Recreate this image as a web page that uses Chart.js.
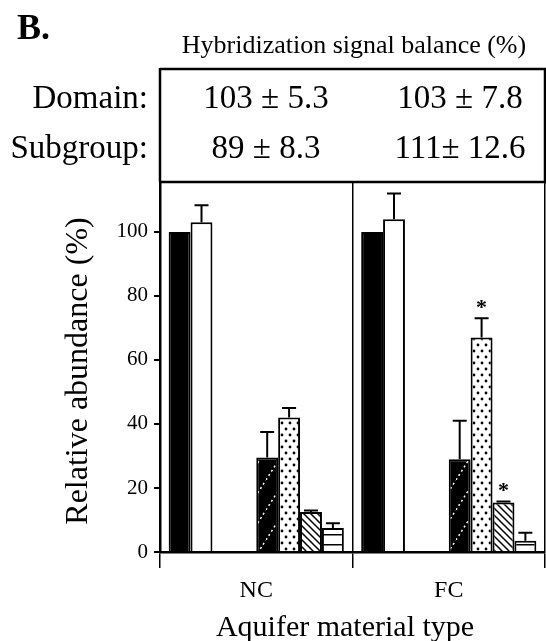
<!DOCTYPE html>
<html>
<head>
<meta charset="utf-8">
<script src="https://cdn.jsdelivr.net/npm/chart.js@4/dist/chart.umd.min.js"></script>
<style>
  body { margin: 0; background: #fff; }
</style>
</head>
<body>
<canvas id="js--chart" width="546" height="641"></canvas>
<script>
// categories and values
const categories = ["NC", "FC"];
const yTicks = [0, 20, 40, 60, 80, 100];

const domainProbe = [100, 100];
const domainSum = [103, 104];
const domainSumErr = [5.3, 8];
const subgroupA = [29.5, 29];
const subgroupAErr = [8, 12];
const subgroupB = [42, 67];
const subgroupBErr = [3, 6];
const subgroupC = [12.5, 15.5];
const subgroupCErr = [0.5, 0.3];
const subgroupD = [7.5, 3.5];
const subgroupDErr = [1.5, 2.5];
const starB = [false, true];
const starC = [false, true];

// table above the plot
const tableTitle = "Hybridization signal balance (%)";
const rowLabels = ["Domain:", "Subgroup:"];
const balanceNC = ["103 \u00b1 5.3", "89 \u00b1 8.3"];
const balanceFC = ["103 \u00b1 7.8", "111\u00b1 12.6"];

const serif = "'Liberation Serif', 'Times New Roman', serif";
Chart.defaults.font.family = serif;
Chart.defaults.color = "#000";

function makePattern(w, h, draw){
    const c = document.createElement("canvas");
    c.width = w;
    c.height = h;
    const g = c.getContext("2d");
    draw(g, w, h);
    return document.getElementById("js--chart").getContext("2d").createPattern(c, "repeat");
}

// black with white dotted "/" lines
const patternA = makePattern(19, 30, function(g, w, h){
    g.fillStyle = "#000";
    g.fillRect(0, 0, w, h);
    g.strokeStyle = "#fff";
    g.lineWidth = 1.5;
    g.setLineDash([2, 3]);
    g.beginPath();
    g.moveTo(0, h);
    g.lineTo(w, 0);
    g.stroke();
});

// white with black dots
const patternB = makePattern(8, 12, function(g, w, h){
    g.fillStyle = "#fff";
    g.fillRect(0, 0, w, h);
    g.fillStyle = "#000";
    g.beginPath();
    g.arc(2, 3, 1.4, 0, Math.PI * 2);
    g.arc(6, 9, 1.4, 0, Math.PI * 2);
    g.fill();
});

// white with black "\" lines
const patternC = makePattern(7, 7, function(g, w, h){
    g.fillStyle = "#fff";
    g.fillRect(0, 0, w, h);
    g.strokeStyle = "#000";
    g.lineWidth = 1.5;
    g.beginPath();
    g.moveTo(-1, -1);
    g.lineTo(w + 1, h + 1);
    g.moveTo(-1, h - 1);
    g.lineTo(1, h + 1);
    g.moveTo(w - 1, -1);
    g.lineTo(w + 1, 1);
    g.stroke();
});

// white with horizontal lines
const patternD = makePattern(4, 10, function(g, w, h){
    g.fillStyle = "#fff";
    g.fillRect(0, 0, w, h);
    g.fillStyle = "#000";
    g.fillRect(0, 4, w, 1.5);
});

const tablePlugin = {
    id: "table",
    afterDraw(chart){
        const c = chart.ctx;
        const area = chart.chartArea;
        c.save();
        c.fillStyle = "#000";
        c.font = "bold 36px " + serif;
        c.textAlign = "left";
        c.textBaseline = "alphabetic";
        c.fillText("B.", 17, 39);

        c.font = "26px " + serif;
        c.textAlign = "center";
        c.fillText(tableTitle, 354, 53);

        c.strokeStyle = "#000";
        c.lineWidth = 2.5;
        c.beginPath();
        c.moveTo(area.left, 69);
        c.lineTo(546, 69);
        c.moveTo(area.left, 68);
        c.lineTo(area.left, area.top);
        c.moveTo(area.left, area.top);
        c.lineTo(546, area.top);
        c.moveTo(area.right, 69);
        c.lineTo(area.right, area.top);
        c.stroke();

        c.font = "33px " + serif;
        const baselines = [108, 158];
        for(let i = 0; i < rowLabels.length; i++){
            c.textAlign = "right";
            c.fillText(rowLabels[i], 148, baselines[i]);
            c.textAlign = "center";
            c.fillText(balanceNC[i], 266, baselines[i]);
            c.fillText(balanceFC[i], 460, baselines[i]);
        }
        c.restore();
    }
};

const errorBarPlugin = {
    id: "errorBars",
    afterDatasetsDraw(chart){
        const c = chart.ctx;
        const yScale = chart.scales.y;
        c.save();
        c.strokeStyle = "#000";
        c.fillStyle = "#000";
        c.lineWidth = 2;
        chart.data.datasets.forEach(function(ds, i){
            if(!ds.errors) return;
            chart.getDatasetMeta(i).data.forEach(function(bar, j){
                const top = yScale.getPixelForValue(ds.data[j] + ds.errors[j]);
                c.beginPath();
                c.moveTo(bar.x, bar.y);
                c.lineTo(bar.x, top);
                c.moveTo(bar.x - 7, top);
                c.lineTo(bar.x + 7, top);
                c.stroke();
                if(ds.stars && ds.stars[j]){
                    c.font = "bold 22px " + serif;
                    c.textAlign = "center";
                    c.textBaseline = "alphabetic";
                    c.fillText("*", bar.x, top - 4);
                }
            });
        });
        c.restore();
    }
};

const dataSets = [
    { label: "Domain probe", data: domainProbe, backgroundColor: "#000" },
    { label: "Sum of domains", data: domainSum, errors: domainSumErr, backgroundColor: "#fff" },
    { label: "", data: [null, null] },
    { label: "", data: [null, null] },
    { label: "Subgroup A", data: subgroupA, errors: subgroupAErr, backgroundColor: patternA },
    { label: "Subgroup B", data: subgroupB, errors: subgroupBErr, stars: starB, backgroundColor: patternB },
    { label: "Subgroup C", data: subgroupC, errors: subgroupCErr, stars: starC, backgroundColor: patternC },
    { label: "Subgroup D", data: subgroupD, errors: subgroupDErr, backgroundColor: patternD }
];
dataSets.forEach(function(ds){
    ds.borderColor = "#000";
    ds.borderWidth = 2;
});

const chart = new Chart(document.getElementById("js--chart"), {
    type: "bar",
    data: { labels: categories, datasets: dataSets },
    options: {
        responsive: false,
        animation: false,
        layout: { padding: { top: 182, right: 1, left: 0, bottom: 0 } },
        datasets: { bar: { categoryPercentage: 0.91, barPercentage: 1 } },
        plugins: { legend: { display: false }, tooltip: { enabled: false } },
        scales: {
            x: {
                grid: { offset: true, color: "#000", lineWidth: 1.5, tickLength: 16 },
                border: { color: "#000", width: 2.5 },
                ticks: { color: "#000", font: { size: 24 }, padding: 8 },
                // trailing spaces nudge the centred title a little to the left, as in the figure
                title: { display: true, text: "Aquifer material type  ", color: "#000",
                         font: { size: 30, lineHeight: 1 }, padding: { top: 0, bottom: -2 } },
                afterFit: function(scale){ scale.height = 89; }
            },
            y: {
                min: 0,
                max: 115.6,
                afterBuildTicks: function(scale){
                    scale.ticks = yTicks.map(function(v){ return { value: v }; });
                },
                grid: { drawOnChartArea: false, color: "#000", lineWidth: 2, tickLength: 6 },
                border: { color: "#000", width: 2.5 },
                ticks: { color: "#000", font: { size: 21 }, padding: 6 },
                title: { display: true, text: "Relative abundance (%) ", color: "#000",
                         font: { size: 32, lineHeight: 1 }, padding: { top: 63, bottom: 0 } },
                afterFit: function(scale){ scale.width = 160; }
            }
        }
    },
    plugins: [tablePlugin, errorBarPlugin]
});
</script>
</body>
</html>
